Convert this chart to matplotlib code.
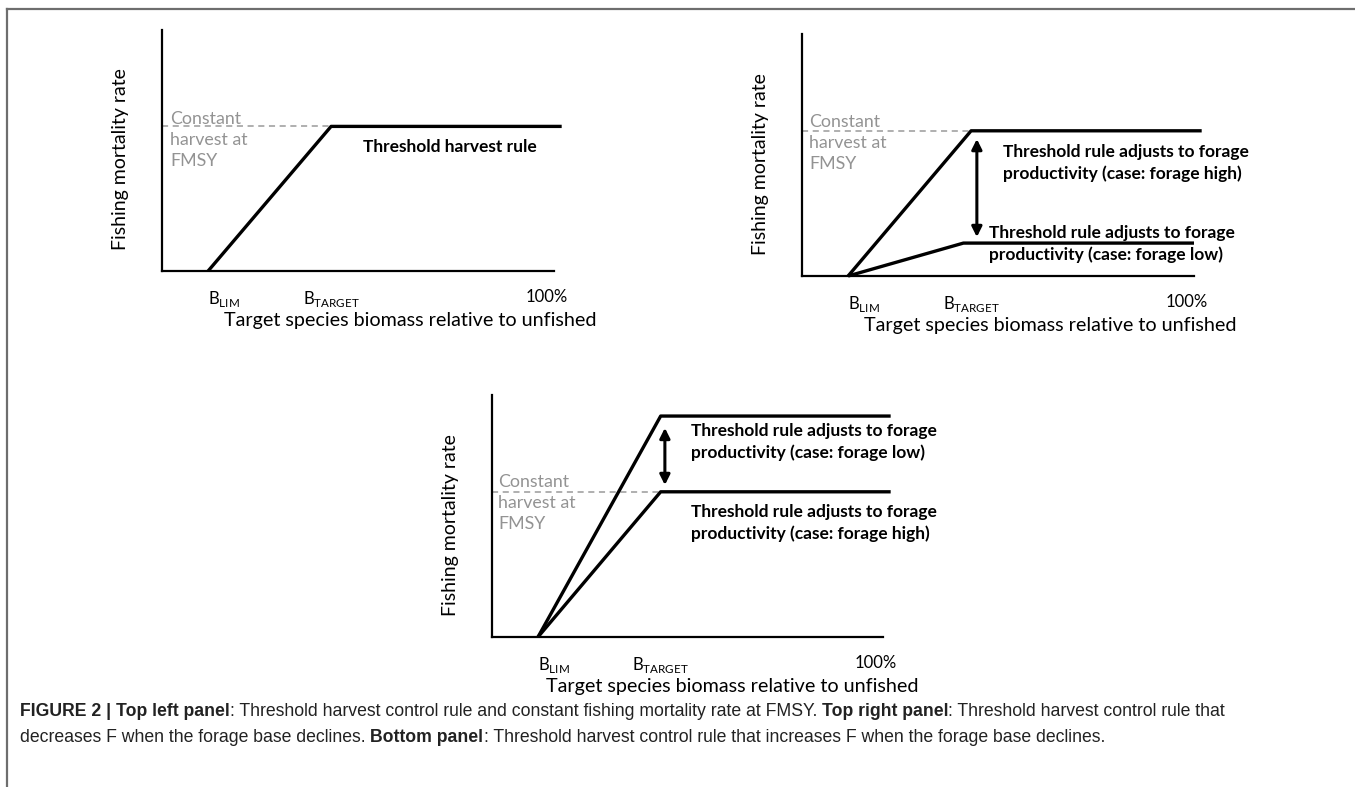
import matplotlib
matplotlib.use("Agg")
import matplotlib.pyplot as plt
from matplotlib.lines import Line2D

plt.rcParams['font.family'] = ['Lato', 'DejaVu Sans']
plt.rcParams['mathtext.fontset'] = 'custom'
plt.rcParams['mathtext.rm'] = 'Lato'

# x positions (percent of unfished biomass), y = relative fishing mortality
tick_pos = [12, 44, 100]
tick_lab = [r'B$_\mathregular{LIM}$', r'B$_\mathregular{TARGET}$', '100%']
fmsy = 0.6

# top left panel
tl_x = [12, 44, 104]
tl_y = [0, 0.6, 0.6]

# top right panel
tr_high_x = [12, 44, 104]
tr_high_y = [0, 0.6, 0.6]
tr_low_x = [12, 42, 102]
tr_low_y = [0, 0.136, 0.136]

# bottom panel
b_low_x = [12, 44, 104]
b_low_y = [0, 0.913, 0.913]
b_high_x = [12, 44, 104]
b_high_y = [0, 0.6, 0.6]

W, H = 1355, 787
fig = plt.figure(figsize=(W / 100, H / 100), dpi=100)

# thin grey frame, top and left
fig.add_artist(Line2D([7 / W, 1], [1 - 9 / H, 1 - 9 / H], color='#6e6e6e', lw=1.6))
fig.add_artist(Line2D([7 / W, 7 / W], [0, 1 - 9 / H], color='#6e6e6e', lw=1.6))


def panel(left, bottom, w, h, xlab_x):
    ax = fig.add_axes([left / W, (H - bottom) / H, w / W, h / H])
    ax.set_xlim(0, 102)
    ax.set_ylim(0, 1)
    for s in ['top', 'right']:
        ax.spines[s].set_visible(False)
    for s in ['left', 'bottom']:
        ax.spines[s].set_linewidth(1.6)
    ax.set_yticks([])
    ax.set_xticks(tick_pos)
    ax.set_xticklabels(tick_lab, fontsize=12)
    ax.tick_params(axis='x', length=0, pad=13)
    ax.get_xticklabels()[0].set_ha('left')
    ax.get_xticklabels()[0].set_x(10)
    ax.plot([0, 44], [fmsy, fmsy], ls=(0, (4, 3)), color='#9a9a9a', lw=1.1)
    ax.text(-0.107, 0.463, 'Fishing mortality rate', rotation=90, fontsize=14,
            ha='center', va='center', transform=ax.transAxes)
    ax.text(xlab_x, -0.205, 'Target species biomass relative to unfished', fontsize=14.2,
            ha='center', va='center', transform=ax.transAxes)
    return ax


def constant_label(ax, x, y):
    ax.text(x, y, 'Constant\nharvest at\nFMSY', color='#939393', fontsize=12.8,
            ha='left', va='center', linespacing=1.4)


def arrow(ax, x, y0, y1):
    ax.annotate('', xy=(x, y1), xytext=(x, y0),
                arrowprops=dict(arrowstyle='<|-|>', color='black', lw=2.2,
                                mutation_scale=15, shrinkA=0, shrinkB=0))


rule = dict(color='black', lw=2.4, clip_on=False, solid_capstyle='butt')
bold = dict(fontsize=12.5, fontweight='bold', ha='left', va='center', linespacing=1.4)

# top left
ax1 = panel(162, 271, 392, 241, 0.633)
ax1.plot(tl_x, tl_y, **rule)
constant_label(ax1, 2.1, 0.544)
ax1.text(52.3, 0.515, 'Threshold harvest rule', **bold)

# top right
ax2 = panel(802, 276, 392, 242, 0.633)
ax2.plot(tr_high_x, tr_high_y, **rule)
ax2.plot(tr_low_x, tr_low_y, **rule)
constant_label(ax2, 1.8, 0.55)
arrow(ax2, 45.5, 0.566, 0.161)
ax2.text(52.3, 0.465, 'Threshold rule adjusts to forage\nproductivity (case: forage high)', **bold)
ax2.text(48.7, 0.134, 'Threshold rule adjusts to forage\nproductivity (case: forage low)', **bold)

# bottom
ax3 = panel(492, 637, 391, 242, 0.614)
ax3.plot(b_low_x, b_low_y, **rule)
ax3.plot(b_high_x, b_high_y, **rule)
constant_label(ax3, 1.6, 0.554)
arrow(ax3, 45.1, 0.864, 0.628)
ax3.text(51.9, 0.806, 'Threshold rule adjusts to forage\nproductivity (case: forage low)', **bold)
ax3.text(51.9, 0.471, 'Threshold rule adjusts to forage\nproductivity (case: forage high)', **bold)

# caption, bold and normal pieces chained together
caption = [
    [("FIGURE 2 | Top left panel", 'bold'),
     (": Threshold harvest control rule and constant fishing mortality rate at FMSY. ", 'normal'),
     ("Top right panel", 'bold'),
     (": Threshold harvest control rule that", 'normal')],
    [("decreases F when the forage base declines. ", 'normal'),
     ("Bottom panel", 'bold'),
     (": Threshold harvest control rule that increases F when the forage base declines.", 'normal')],
]
cap_y = [711, 737]
for line, yy in zip(caption, cap_y):
    prev = None
    for txt, wt in line:
        kw = dict(fontsize=12.7, fontweight=wt, family='Liberation Sans', color='#222222')
        if prev is None:
            prev = fig.text(20 / W, 1 - yy / H, txt, ha='left', va='center', **kw)
        else:
            prev = plt.annotate(txt, xy=(1, 0), xycoords=prev, ha='left', va='bottom',
                                annotation_clip=False, **kw)

fig.savefig('out.png', dpi=100)
